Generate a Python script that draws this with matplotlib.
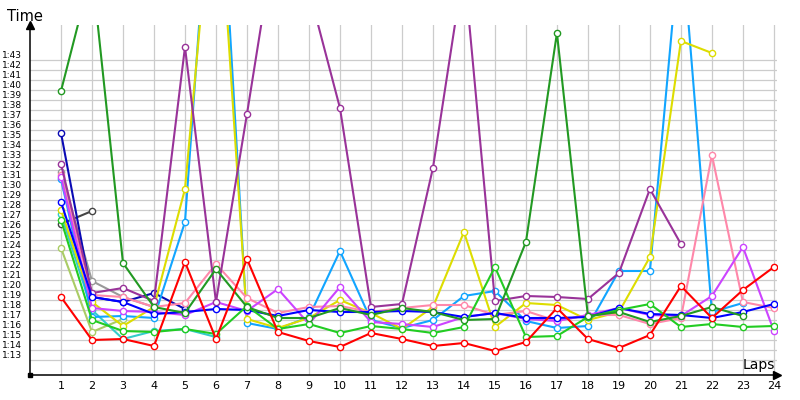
"""Lap time chart (laps 1-24, lap times as seconds, drawn as m:ss)."""
import numpy as np
import matplotlib
matplotlib.use("Agg")
import matplotlib.pyplot as plt

# lap times in seconds, series start at lap 1
red = [79.3, 75.0, 75.1, 74.4, 82.8, 75.1, 83.1, 75.8, 74.9, 74.3, 75.7, 75.1,
       74.4, 74.7, 73.9, 74.8, 78.2, 75.1, 74.2, 75.5, 80.4, 77.2, 80.0, 82.3]
dark_green = [99.9, 112.0, 82.7, 78.3, 77.7, 82.1, 78.3, 77.2, 77.2, 78.2, 77.5, 78.2,
              77.8, 77.0, 77.1, 84.8, 105.7, 77.4, 77.8, 76.8, 77.4, 78.3, 77.4]
bright_green = [87.0, 77.0, 75.9, 75.8, 76.1, 75.6, 78.4, 76.1, 76.6, 75.7, 76.4, 76.1,
                75.7, 76.3, 82.3, 75.3, 75.4, 77.3, 78.0, 78.6, 76.3, 76.6, 76.3, 76.4]
blue = [88.8, 79.3, 78.8, 77.6, 77.8, 78.1, 78.0, 77.4, 78.0, 77.8, 77.8, 77.9,
        77.8, 77.3, 77.7, 77.2, 77.2, 77.3, 78.2, 77.6, 77.5, 77.2, 77.8, 78.6]
navy = [95.7, 79.3, 78.8, 79.7, 78.1]
purple = [92.6, 79.7, 80.2, 78.9, 104.3, 78.8, 97.6, 117.0, 110.0, 98.2, 78.3, 78.6,
          92.2, 112.4, 78.9, 79.4, 79.3, 79.1, 81.7, 90.1, 84.6]
violet = [91.3, 78.2, 77.9, 77.8, 77.5, 78.8, 77.9, 80.1, 76.6, 80.3, 76.8, 76.6,
          76.3, 77.3, 77.7, 77.1, 76.9, 77.5, 78.2, 77.5, 77.4, 79.4, 84.3, 75.9]
pink = [91.5, 79.5, 79.3, 78.3, 78.7, 82.6, 79.2, 77.7, 78.3, 78.4, 77.8, 78.2,
        78.5, 78.5, 77.5, 77.9, 76.9, 77.5, 77.5, 76.6, 77.2, 93.5, 78.8, 78.2]
light_blue = [91.1, 77.3, 77.4, 77.2, 86.8, 130.0, 76.7, 76.1, 77.3, 83.9, 77.0, 76.2,
              77.0, 79.4, 79.9, 76.9, 76.2, 76.4, 81.9, 81.9, 116.0, 77.8, 78.7]
yellow = [88.0, 78.8, 76.4, 78.3, 90.1, 124.2, 77.1, 76.2, 77.2, 79.0, 77.7, 76.1,
          78.3, 85.8, 76.3, 78.7, 78.5, 77.0, 77.8, 83.3, 104.9, 103.7]
teal = [87.6, 78.0, 75.1, 75.9, 76.1, 75.3]
olive = [84.2, 75.8, 77.1]
gray = [91.8, 80.9, 79.3, 78.3]
black = [86.6, 87.9]

LAP_TICKS = list(range(1, 25))
TIME_TICKS = list(range(73, 104))   # 1:13 .. 1:43
TIME_LABELS = [f"1:{s - 60:02d}" for s in TIME_TICKS]

SERIES = [
    (black, "#444444"), (gray, "#999999"), (olive, "#aacc66"), (teal, "#33cccc"),
    (navy, "#0a0ab4"), (light_blue, "#11a5ff"), (yellow, "#dddd00"),
    (pink, "#ff88aa"), (violet, "#cc44ff"), (purple, "#993399"), (blue, "#0000ff"),
    (bright_green, "#22cc22"), (dark_green, "#229922"), (red, "#ff0000"),
]

fig = plt.figure(figsize=(8, 4), dpi=100)
ax = fig.add_axes([30 / 800, 25 / 400, 747 / 800, 350 / 400])
ax.set_xlim(0, 24.1)
ax.set_ylim(71.5, 106.5)

for vals, color in SERIES:
    laps = np.arange(1, len(vals) + 1)
    ax.plot(laps, vals, color=color, lw=1.5, marker="o", ms=4.5,
            mfc="white", mec=color, mew=1.0, solid_joinstyle="round")

ax.set_xticks(LAP_TICKS)
ax.set_xticklabels([str(n) for n in LAP_TICKS])
ax.set_yticks(TIME_TICKS)
ax.set_yticklabels(TIME_LABELS)
ax.tick_params(axis="y", length=0, pad=6, labelsize=6.5)
ax.tick_params(axis="x", length=0, pad=4, labelsize=8)
for lab in ax.get_yticklabels():
    lab.set_va("bottom")

ax.grid(True, color="#cccccc", lw=0.9)
ax.set_axisbelow(True)
for side in ("top", "right"):
    ax.spines[side].set_visible(False)
for side in ("left", "bottom"):
    ax.spines[side].set_color("black")
    ax.spines[side].set_linewidth(1.1)

# axis arrows + origin square
ax.plot([0], [1.0], marker="^", ms=6, color="black", transform=ax.transAxes, clip_on=False)
ax.plot([1.0], [0], marker=">", ms=6, color="black", transform=ax.transAxes, clip_on=False)
ax.plot([0], [0], marker="s", ms=3, color="black", transform=ax.transAxes, clip_on=False)

fig.text(7 / 800, (400 - 21) / 400, "Time", fontsize=10.5, va="baseline")
fig.text(743 / 800, (400 - 369) / 400, "Laps", fontsize=10, va="baseline")

fig.savefig("out.png", dpi=100)
